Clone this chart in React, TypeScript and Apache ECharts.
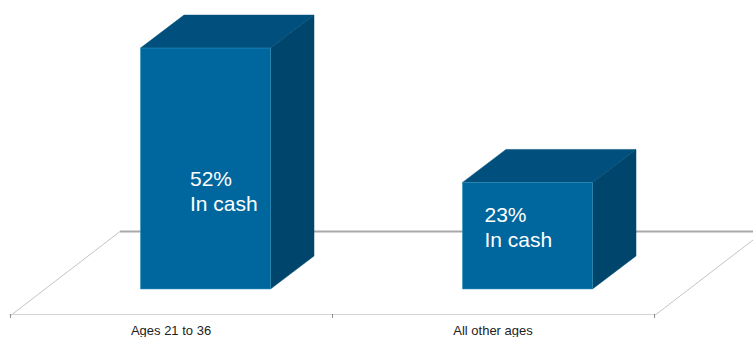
import React, { useEffect, useRef } from "react";
import * as echarts from "echarts";

const categories = ["Ages 21 to 36", "All other ages"];
const cashShare = [52, 23];
const captionSuffix = "In cash";

const WIDTH = 753;
const HEIGHT = 337;
const FONT = '"Liberation Sans", Arial, sans-serif';

// Pixel geometry of the extruded boxes, relative to each category's centre.
const BAR_WIDTH = 130;
const BAR_SHIFT = 34.5;
const DEPTH_X = 43.5;
const DEPTH_Y = -33;
const CAPTION_LEFT = [49.5, 22];
const CAPTION_TOP = [117.5, 19.5];

const FRONT = "#00679e";
const TOP = "#004f7c";
const SIDE = "#00466c";
const EDGE = "#2f93c0";

function renderBox(params: any, api: any) {
  const index = api.value(0);
  const value = api.value(1);
  const [cx, top] = api.coord([index, value]);
  const [, base] = api.coord([index, 0]);
  const left = cx + BAR_SHIFT - BAR_WIDTH / 2;
  const right = left + BAR_WIDTH;
  const dx = DEPTH_X;
  const dy = DEPTH_Y;

  const poly = (points: number[][], fill: string) => ({
    type: "polygon",
    shape: { points },
    style: { fill, stroke: fill, lineWidth: 0.5 },
  });

  return {
    type: "group",
    children: [
      poly([[right, top], [right + dx, top + dy], [right + dx, base + dy], [right, base]], SIDE),
      poly([[left, top], [left + dx, top + dy], [right + dx, top + dy], [right, top]], TOP),
      {
        type: "rect",
        shape: { x: left, y: top, width: BAR_WIDTH, height: base - top },
        style: { fill: FRONT, stroke: EDGE, lineWidth: 0.6 },
      },
      {
        type: "text",
        x: left + CAPTION_LEFT[index],
        y: top + CAPTION_TOP[index],
        style: {
          text: `${value}%\n${captionSuffix}`,
          fill: "#ffffff",
          font: `21px ${FONT}`,
          lineHeight: 25,
          textAlign: "left",
          textVerticalAlign: "top",
        },
      },
    ],
  };
}

export default function App() {
  const ref = useRef<HTMLDivElement>(null);

  useEffect(() => {
    document.body.style.margin = "0";
    const chart = echarts.init(ref.current!, null, { renderer: "svg" });
    chart.setOption({
      animation: false,
      backgroundColor: "#ffffff",
      grid: { left: 10, top: 11, width: 644, height: 305 },
      xAxis: {
        type: "category",
        data: categories,
        axisLine: { show: true, onZero: false, lineStyle: { color: "#d4d4d4", width: 1 } },
        axisTick: { show: true, length: 4, lineStyle: { color: "#8c8c8c", width: 1 } },
        axisLabel: { color: "#222222", fontFamily: FONT, fontSize: 13, margin: 10 },
      },
      yAxis: {
        type: "value",
        min: -5.4,
        max: 60,
        show: false,
        splitLine: { show: false },
      },
      // Back wall and floor edges of the 3D stage, kept behind the boxes.
      graphic: [
        {
          type: "line",
          z: 0,
          shape: { x1: 120, y1: 231.5, x2: 753, y2: 231.5 },
          style: { stroke: "#a8a8a8", lineWidth: 2 },
        },
        {
          type: "line",
          z: 0,
          shape: { x1: 10, y1: 316, x2: 120, y2: 231.5 },
          style: { stroke: "#c4c4c4", lineWidth: 1 },
        },
        {
          type: "line",
          z: 0,
          shape: { x1: 654, y1: 316, x2: 753, y2: 240 },
          style: { stroke: "#c4c4c4", lineWidth: 1 },
        },
      ],
      series: [
        {
          type: "custom",
          z: 5,
          clip: false,
          renderItem: renderBox,
          encode: { x: 0, y: 1 },
          data: cashShare.map((v, i) => [i, v]),
        },
      ],
    });
    return () => chart.dispose();
  }, []);

  return <div ref={ref} style={{ width: WIDTH, height: HEIGHT }} />;
}
